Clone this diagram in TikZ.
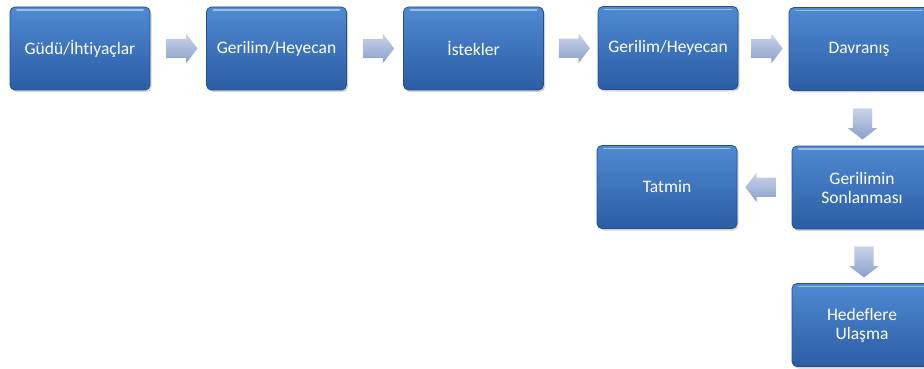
\documentclass[tikz,border=0pt]{standalone}
\usepackage{fontspec}
\setmainfont{Carlito}[Ligatures={NoCommon,NoRare},Contextuals=NoAlternate]
\usetikzlibrary{shapes.arrows,shadows}
\definecolor{boxtop}{HTML}{4F8AD3}
\definecolor{boxbot}{HTML}{2B5DA4}
\definecolor{boxline}{HTML}{244F8C}
\definecolor{flowtop}{HTML}{C9D4EA}
\definecolor{flowbot}{HTML}{8A9FC8}
\tikzset{
  stepbox/.style={draw=boxline, line width=.8pt, rounded corners=5pt,
    top color=boxtop, bottom color=boxbot,
    minimum width=140pt, minimum height=83pt, inner sep=2pt,
    text=white, align=center, font=\fontsize{17.5}{19}\selectfont,
    drop shadow={shadow xshift=1.5pt, shadow yshift=-2pt, opacity=.35},
    path picture={\draw[white, opacity=.45, line width=1.6pt, line cap=round]
      ([xshift=7pt,yshift=-3pt]path picture bounding box.north west) --
      ([xshift=-7pt,yshift=-3pt]path picture bounding box.north east);}},
  flow/.style={single arrow, inner sep=9.5pt, minimum width=0pt, minimum height=31pt,
    single arrow head extend=5pt, single arrow tip angle=105,
    top color=flowtop, bottom color=flowbot, draw=none},
  flow right/.style={flow, shape border rotate=0},
  flow down/.style={flow, shape border rotate=270},
  flow left/.style={flow, shape border rotate=180}
}
\begin{document}
\begin{tikzpicture}[x=1pt,y=-1pt]
  \useasboundingbox (0,0) rectangle (924,369);
  \clip (0,0) rectangle (924,369);
  \draw
    (80,48.5) node[stepbox] (gudu){Güdü/İhtiyaçlar}
    (276.5,48.5) node[stepbox] (gerilim){Gerilim/Heyecan}
    (473.5,48.5) node[stepbox] (istek){İstekler}
    (668,48) node[stepbox] (heyecan){Gerilim/Heyecan}
    (859,49) node[stepbox] (davranis){Davranış}
    (862,187.5) node[stepbox] (sonlanma){Gerilimin\\Sonlanması}
    (667,187) node[stepbox] (tatmin){Tatmin}
    (862,325) node[stepbox] (hedef){Hedeflere\\Ulaşma};
  \begin{scope}[draw=none]
    \path (gudu) -- (gerilim) node[midway, flow right] (f1){};
    \path (gerilim) -- (istek) node[midway, flow right] (f2){};
    \path (istek) -- (heyecan) node[midway, flow right] (f3){};
    \path (heyecan) -- (davranis) node[midway, flow right] (f4){};
    \path (davranis) -- (sonlanma) node[midway, flow down, yshift=-2pt, xshift=2pt] (f5){};
    \path (sonlanma) -- (tatmin) node[midway, flow left] (f6){};
    \path (sonlanma) -- (hedef) node[midway, flow down, yshift=-2pt, xshift=2pt] (f7){};
  \end{scope}
\end{tikzpicture}
\end{document}
